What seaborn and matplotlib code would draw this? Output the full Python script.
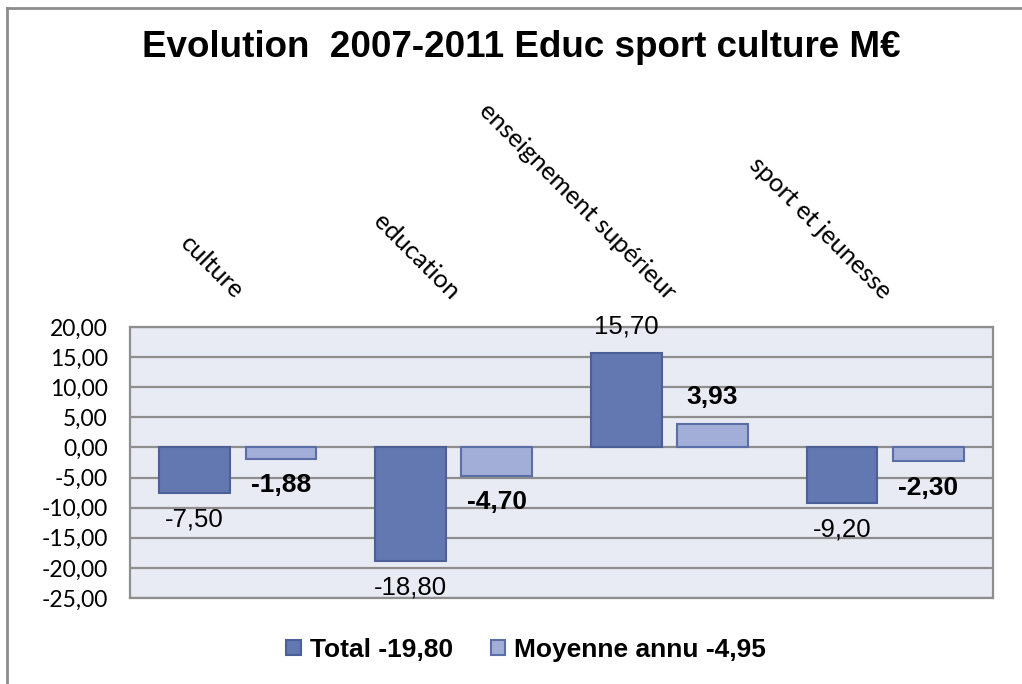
import pandas as pd
import numpy as np
import seaborn as sns
import matplotlib.pyplot as plt
import matplotlib.transforms as mtrans
from matplotlib.patches import Patch
from matplotlib.lines import Line2D

# ---------------------------------------------------------
# DATA
# ---------------------------------------------------------
categories = ["culture", "education", "enseignement supérieur", "sport et jeunesse"]
total = [-7.50, -18.80, 15.70, -9.20]
moyenne = [-1.88, -4.70, 3.93, -2.30]
series_names = ["Total -19,80", "Moyenne annu -4,95"]
yticks = [20, 15, 10, 5, 0, -5, -10, -15, -20, -25]

df = pd.DataFrame({
    "categorie": categories * 2,
    "valeur": total + moyenne,
    "serie": [series_names[0]] * 4 + [series_names[1]] * 4,
})

def fr(v):
    return f"{v:.2f}".replace(".", ",")

# ---------------------------------------------------------
# FIGURE
# ---------------------------------------------------------
dark = "#6378B0"
light = "#A3AED8"
edge_dark = "#4C5F97"
edge_light = "#5A6FA8"
grid_col = "#8E8E8E"

fig = plt.figure(figsize=(10.22, 6.84), dpi=100)
ax = fig.add_axes([0.1272, 0.1257, 0.8444, 0.3962])
ax.set_facecolor("#E9EBF4")

sns.barplot(data=df, x="categorie", y="valeur", hue="serie",
            palette=[dark, light], saturation=1, width=0.8, gap=0.18,
            legend=False, ax=ax, zorder=3)

for patch, ec in zip(ax.patches, [edge_dark] * 4 + [edge_light] * 4):
    patch.set_edgecolor(ec)
    patch.set_linewidth(1.5)

ax.set_ylim(-25, 20)
ax.set_yticks(yticks)
ax.set_yticklabels([fr(t) for t in yticks], fontfamily="Lato", fontsize=16.5)
ax.tick_params(axis="y", length=0, pad=16)
ax.yaxis.grid(True, color=grid_col, linewidth=1.6, zorder=1)
ax.set_axisbelow(True)
for s in ax.spines.values():
    s.set_color(grid_col)
    s.set_linewidth(1.6)
ax.set_xlabel("")
ax.set_ylabel("")

# category labels on top, rotated
ax.xaxis.tick_top()
ax.set_xticks(range(len(categories)))
ax.set_xticklabels(categories, rotation=-45, ha="right", va="bottom",
                   rotation_mode="anchor", fontfamily="Lato", fontsize=18.3)
ax.tick_params(axis="x", length=0, pad=17)
shift = mtrans.ScaledTranslation(-6 / 100, 0, fig.dpi_scale_trans)
for lab in ax.get_xticklabels():
    lab.set_transform(lab.get_transform() + shift)

# data labels
for bars, vals, weight, size in [(ax.containers[0], total, "normal", 18.5),
                                 (ax.containers[1], moyenne, "bold", 19)]:
    for bar, v in zip(bars, vals):
        x = bar.get_x() + bar.get_width() / 2
        ax.annotate(fr(v), (x, v), xytext=(0, 19 if v > 0 else -19),
                    textcoords="offset points", ha="center", va="center",
                    fontsize=size, fontweight=weight, fontfamily="Liberation Sans")

# title
fig.text(0.51, 0.930, "Evolution  2007-2011 Educ sport culture M€",
         ha="center", va="center", fontsize=26.5, fontweight="bold",
         fontfamily="Liberation Sans")

# legend
handles = [Patch(facecolor=dark, edgecolor=edge_dark, linewidth=1.5),
           Patch(facecolor=light, edgecolor=edge_light, linewidth=1.5)]
fig.legend(handles, series_names, loc="center", bbox_to_anchor=(0.515, 0.05),
           ncol=2, frameon=False, handlelength=0.55, handleheight=0.55,
           handletextpad=0.35, columnspacing=1.42,
           prop={"family": "Liberation Sans", "weight": "bold", "size": 19})

# chart area border (left and top)
fig.add_artist(Line2D([0.0073, 0.0073], [0, 0.988], transform=fig.transFigure,
                      color="#8C8C8C", linewidth=2))
fig.add_artist(Line2D([0.0073, 1], [0.988, 0.988], transform=fig.transFigure,
                      color="#8C8C8C", linewidth=2))

plt.savefig("out.png", dpi=100)
